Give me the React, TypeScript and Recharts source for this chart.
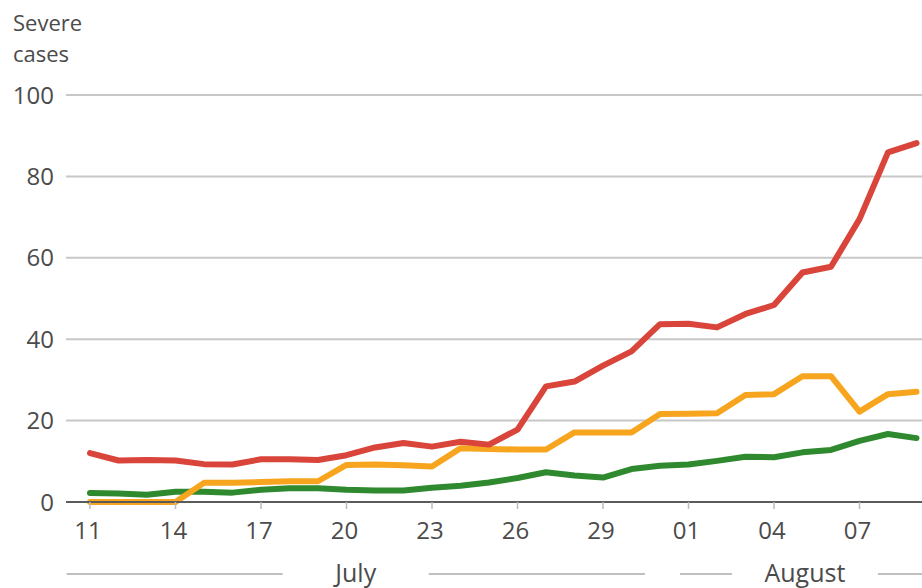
import React from "react";
import { LineChart, Line, XAxis, YAxis, CartesianGrid } from "recharts";

// Day labels: 11 July .. 09 August
const dayLabels = [
  "11", "12", "13", "14", "15", "16", "17", "18", "19", "20",
  "21", "22", "23", "24", "25", "26", "27", "28", "29", "30",
  "31", "01", "02", "03", "04", "05", "06", "07", "08", "09",
];

const severeRed = [
  12.0, 10.2, 10.3, 10.2, 9.3, 9.2, 10.5, 10.5, 10.3, 11.5,
  13.4, 14.5, 13.6, 14.8, 14.1, 17.8, 28.4, 29.6, 33.5, 37.0,
  43.7, 43.8, 42.9, 46.2, 48.4, 56.4, 57.8, 69.5, 85.9, 88.2,
];

const severeOrange = [
  0, 0, 0, 0, 4.7, 4.7, 4.9, 5.1, 5.1, 9.1,
  9.2, 9.0, 8.7, 13.2, 13.0, 12.9, 12.9, 17.1, 17.1, 17.1,
  21.6, 21.7, 21.8, 26.3, 26.5, 30.9, 30.9, 22.2, 26.5, 27.1,
];

const severeGreen = [
  2.2, 2.1, 1.8, 2.5, 2.5, 2.3, 3.0, 3.4, 3.4, 3.0,
  2.8, 2.8, 3.5, 4.0, 4.8, 5.9, 7.3, 6.5, 6.0, 8.1,
  8.9, 9.2, 10.1, 11.1, 11.0, 12.2, 12.8, 15.0, 16.7, 15.7,
];

const yTicks = [0, 20, 40, 60, 80, 100];
const xTickDays = [0, 3, 6, 9, 12, 15, 18, 21, 24, 27];

const months = [
  { name: "July", start: -0.82, end: 19.47 },
  { name: "August", start: 20.7, end: 29.47 },
];

const data = dayLabels.map((label, i) => ({
  day: i,
  label,
  red: severeRed[i],
  orange: severeOrange[i],
  green: severeGreen[i],
}));

// layout constants
const CHART_W = 931;
const CHART_H = 588;
const Y_AXIS_W = 66;
const PAD_LEFT = 24;
const PAD_RIGHT = 14.5;
const LAST_DAY = 29;
const plotLeft = Y_AXIS_W;
const plotWidth = CHART_W - Y_AXIS_W;
const step = (plotWidth - PAD_LEFT - PAD_RIGHT) / LAST_DAY;
const xOf = (d: number) => plotLeft + PAD_LEFT + d * step;

const FONT = "'Open Sans', 'Noto Sans', sans-serif";
const TEXT = "#4b4b4b";

export default function App() {
  const bandY = 574;
  const halfGap = 73;
  return (
    <div
      style={{
        position: "absolute",
        left: 0,
        top: 0,
        width: 922,
        height: 588,
        overflow: "hidden",
        background: "#fff",
      }}
    >
      <LineChart
        width={CHART_W}
        height={CHART_H}
        data={data}
        margin={{ top: 95, right: 0, bottom: 46, left: 0 }}
      >
        <CartesianGrid vertical={false} stroke="#c8c8c8" strokeWidth={2} />
        <XAxis
          dataKey="day"
          type="number"
          domain={[0, LAST_DAY]}
          ticks={xTickDays}
          interval={0}
          tickFormatter={(d: number) => dayLabels[d]}
          padding={{ left: PAD_LEFT, right: PAD_RIGHT }}
          height={40}
          axisLine={{ stroke: "#5a5a5a", strokeWidth: 2 }}
          tickLine={{ stroke: "#bbbbbb", strokeWidth: 1.5 }}
          tickSize={7}
          tickMargin={13}
          tick={{ fill: TEXT, fontSize: 24, fontFamily: FONT, dx: -2 }}
        />
        <YAxis
          width={Y_AXIS_W}
          domain={[0, 100]}
          ticks={yTicks}
          interval={0}
          axisLine={false}
          tickLine={false}
          tickSize={6}
          tickMargin={6}
          tick={{ fill: TEXT, fontSize: 24, fontFamily: FONT }}
        />
        <Line
          dataKey="green"
          type="linear"
          stroke="#2f8a2f"
          strokeWidth={6}
          strokeLinecap="round"
          strokeLinejoin="round"
          dot={false}
          isAnimationActive={false}
        />
        <Line
          dataKey="orange"
          type="linear"
          stroke="#f7a51f"
          strokeWidth={6}
          strokeLinecap="round"
          strokeLinejoin="round"
          dot={false}
          isAnimationActive={false}
        />
        <Line
          dataKey="red"
          type="linear"
          stroke="#d9443b"
          strokeWidth={6}
          strokeLinecap="round"
          strokeLinejoin="round"
          dot={false}
          isAnimationActive={false}
        />
      </LineChart>
      <svg
        width={922}
        height={588}
        style={{ position: "absolute", left: 0, top: 0, pointerEvents: "none" }}
      >
        <text x={13} y={31} fontSize={22} fontFamily={FONT} fill={TEXT}>
          Severe
        </text>
        <text x={13} y={62} fontSize={22} fontFamily={FONT} fill={TEXT}>
          cases
        </text>
        {months.map((m) => {
          const x1 = xOf(m.start);
          const x2 = xOf(m.end);
          const c = (x1 + x2) / 2;
          return (
            <g key={m.name}>
              <line x1={x1} x2={c - halfGap} y1={bandY} y2={bandY} stroke="#c0c0c0" strokeWidth={2} />
              <line x1={c + halfGap} x2={x2} y1={bandY} y2={bandY} stroke="#c0c0c0" strokeWidth={2} />
              <text x={c} y={582} textAnchor="middle" fontSize={25} fontFamily={FONT} fill={TEXT}>
                {m.name}
              </text>
            </g>
          );
        })}
      </svg>
    </div>
  );
}
